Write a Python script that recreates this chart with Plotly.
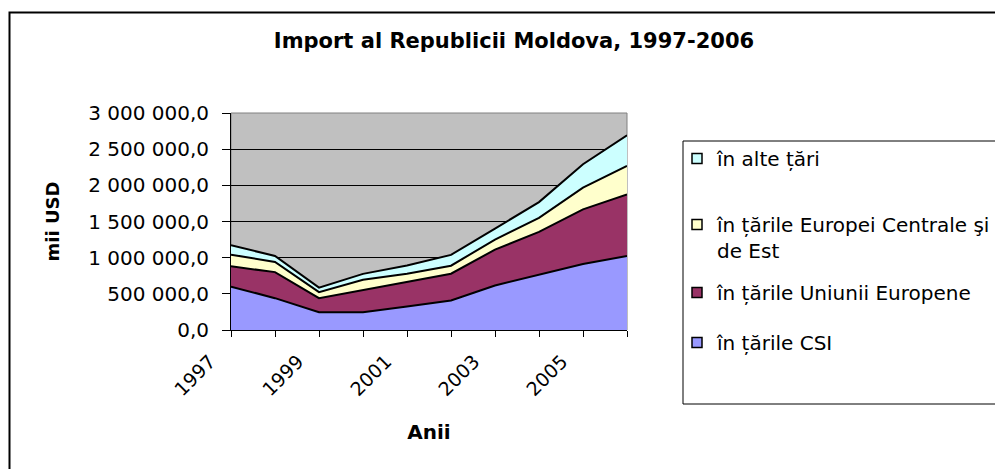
import plotly.graph_objects as go

years = [1997, 1998, 1999, 2000, 2001, 2002, 2003, 2004, 2005, 2006]
csi = [600000, 440000, 245000, 245000, 325000, 407000, 616000, 768000, 912000, 1023000]
ue = [280000, 360000, 195000, 310000, 337000, 371000, 495000, 588000, 755000, 852000]
ece = [162000, 140000, 83000, 139000, 116000, 111000, 139000, 194000, 301000, 393000]
alte = [129000, 84000, 63000, 82000, 114000, 149000, 152000, 218000, 324000, 425000]

series_names = ["în țările CSI", "în țările Uniunii Europene",
                "în țările Europei Centrale şi<br>de Est", "în alte țări"]
series_values = [csi, ue, ece, alte]
series_colors = ["#9999FF", "#993366", "#FFFFCC", "#CCFFFF"]

y_tickvals = [0, 500000, 1000000, 1500000, 2000000, 2500000, 3000000]
y_ticktext = ["0,0", "500 000,0", "1 000 000,0", "1 500 000,0",
              "2 000 000,0", "2 500 000,0", "3 000 000,0"]
x_tickvals = [1997, 1999, 2001, 2003, 2005]
x_ticktext = ["1997", "1999", "2001", "2003", "2005"]

FONT = "DejaVu Sans, Liberation Sans, Arial, sans-serif"

# the page adds an 8px body margin, so figure coords = page coords - 8
W, H = 995, 461
L, R, T, B = 223, 376, 105, 139
pw, ph = W - L - R, H - T - B


def px(xp):
    return (xp - L) / pw


def py(yp):
    return (H - B - yp) / ph


fig = go.Figure()
for name, vals, col in zip(series_names, series_values, series_colors):
    fig.add_trace(go.Scatter(
        x=years, y=vals, name=name, mode="lines", stackgroup="one",
        line=dict(color="black", width=2), fillcolor=col, showlegend=False,
    ))

# legend entries (square swatches), each in its own legend for exact placement
legend_of = ["legend4", "legend3", "legend2", "legend"]  # CSI, UE, ECE, alte
legend_tops = {"legend": 131, "legend2": 197, "legend3": 265, "legend4": 315}
for name, col, lg in zip(series_names, series_colors, legend_of):
    fig.add_trace(go.Scatter(
        x=[None], y=[None], name=name, mode="markers", legend=lg,
        marker=dict(symbol="square", size=10, color=col,
                    line=dict(color="black", width=1.5)),
    ))

legend_layout = {}
for lg, top in legend_tops.items():
    legend_layout[lg] = dict(x=px(669), xanchor="left", y=py(top), yanchor="top",
                             bgcolor="rgba(0,0,0,0)", borderwidth=0,
                             valign="top", font=dict(size=20))

fig.update_layout(
    width=W, height=H,
    margin=dict(l=L, r=R, t=T, b=B, pad=0, autoexpand=False),
    paper_bgcolor="white", plot_bgcolor="#C0C0C0",
    font=dict(family=FONT, size=20, color="black"),
    title=dict(text="<b>Import al Republicii Moldova, 1997-2006</b>",
               x=506 / W, xanchor="center", y=1 - 33 / H, yanchor="middle",
               font=dict(size=21)),
    showlegend=True,
    **legend_layout,
    xaxis=dict(range=[1997, 2006], tickmode="array", tickvals=x_tickvals,
               ticktext=x_ticktext, tickangle=-45, showgrid=False,
               zeroline=False, showline=True, linecolor="black", linewidth=1,
               ticks="outside", ticklen=6, tickcolor="black", automargin=False,
               ticklabelshift=-21, ticklabelstandoff=6,
               tickfont=dict(size=19),
               minor=dict(tickmode="linear", tick0=1997, dtick=1, ticks="outside",
                          ticklen=6, tickcolor="black", showgrid=False),
               title=dict(text="<b>Anii</b>", font=dict(size=20), standoff=25)),
    yaxis=dict(range=[0, 3000000], tickmode="array", tickvals=y_tickvals,
               ticktext=y_ticktext, showgrid=True, gridcolor="black",
               gridwidth=1, zeroline=False, showline=True, linecolor="black",
               linewidth=1, ticks="outside", ticklen=8, tickcolor="black",
               ticklabelstandoff=9, automargin=False,
               title=dict(text="<b>mii USD</b>", font=dict(size=18), standoff=23)),
    shapes=[
        # plot area border (top/right)
        dict(type="rect", xref="x domain", yref="y domain", x0=0, x1=1, y0=0, y1=1,
             line=dict(color="#808080", width=1), layer="below"),
        # legend box
        dict(type="rect", xref="paper", yref="paper", x0=px(675), x1=px(1010),
             y0=py(396), y1=py(133), line=dict(color="black", width=1),
             fillcolor="white", layer="below"),
        # outer chart border
        dict(type="rect", xref="paper", yref="paper", x0=px(1.5), x1=px(1015),
             y0=py(480), y1=py(4.5), line=dict(color="black", width=2),
             layer="below"),
    ],
)

fig.write_html("out.html")
